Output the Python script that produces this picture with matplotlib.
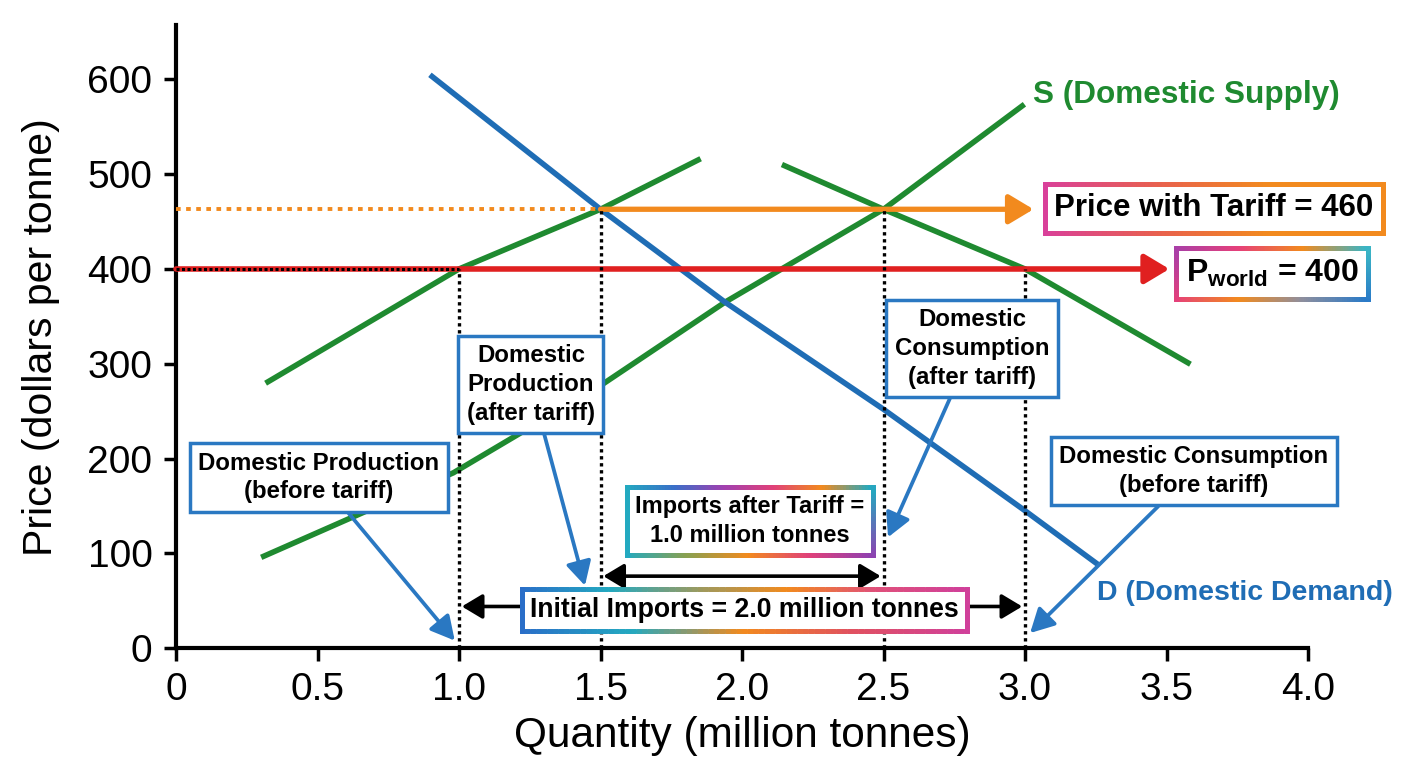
import numpy as np
import matplotlib
matplotlib.use("Agg")
import matplotlib.pyplot as plt
from matplotlib.collections import LineCollection
from matplotlib.colors import LinearSegmentedColormap, to_rgba

# ---- values ----
supply_q = [0.31, 0.98, 1.5, 1.94, 2.5, 2.99]
supply_p = [97, 185, 277, 365, 463, 572]

demand_q = [0.905, 1.5, 1.94, 2.5, 3.0, 3.25]
demand_p = [603, 463, 365, 252, 145, 90]

upper_left_q = [0.325, 1.0, 1.5, 1.845]
upper_left_p = [281, 400, 463, 515]

upper_right_q = [2.15, 2.5, 3.0, 3.576]
upper_right_p = [509, 463, 400, 301]

p_world = 400
p_tariff = 463
world_arrow_end = 3.51
tariff_arrow_end = 3.03

q_before = [1.0, 3.0]     # production / consumption at world price
q_after = [1.5, 2.5]      # production / consumption with tariff

x_ticks = [0, 0.5, 1.0, 1.5, 2.0, 2.5, 3.0, 3.5, 4.0]
x_tick_labels = ["0", "0.5", "1.0", "1.5", "2.0", "2.5", "3.0", "3.5", "4.0"]
y_ticks = [0, 100, 200, 300, 400, 500, 600]

GREEN = "#1f8a30"
BLUE = "#1f6db5"
BOX_BLUE = "#2a78c2"
ORANGE = "#f28a1e"
RED = "#e02020"

plt.rcParams["font.family"] = ["Liberation Sans", "DejaVu Sans"]
plt.rcParams["mathtext.fontset"] = "custom"
plt.rcParams["mathtext.bf"] = "Liberation Sans:bold"
plt.rcParams["mathtext.rm"] = "Liberation Sans"


def gradient_border(ax, txt, top_colors, bottom_colors=None, lw=3.5):
    if bottom_colors is None:
        bottom_colors = top_colors
    renderer = ax.figure.canvas.get_renderer()
    bb = txt.get_bbox_patch().get_window_extent(renderer)
    inv = ax.transAxes.inverted()
    (x0, y0), (x1, y1) = inv.transform([[bb.x0, bb.y0], [bb.x1, bb.y1]])
    top = LinearSegmentedColormap.from_list("t", top_colors)
    bot = LinearSegmentedColormap.from_list("b", bottom_colors)
    n = 80
    xs = np.linspace(x0, x1, n + 1)
    segs, cols = [], []
    for i in range(n):
        t = (i + 0.5) / n
        segs.append([(xs[i], y1), (xs[i + 1], y1)])
        cols.append(top(t))
        segs.append([(xs[i], y0), (xs[i + 1], y0)])
        cols.append(bot(t))
    ys = np.linspace(y0, y1, 21)
    for side, t in ((x0, 0.0), (x1, 1.0)):
        c_top = np.array(to_rgba(top(t)))
        c_bot = np.array(to_rgba(bot(t)))
        for j in range(20):
            f = (j + 0.5) / 20
            segs.append([(side, ys[j]), (side, ys[j + 1])])
            cols.append(tuple(c_bot * (1 - f) + c_top * f))
    lc = LineCollection(segs, colors=cols, linewidths=lw, transform=ax.transAxes,
                        clip_on=False, zorder=txt.get_zorder() + 0.1,
                        capstyle="projecting")
    ax.add_collection(lc)


def main():
    fig = plt.figure(figsize=(14.08, 7.68), dpi=100)
    ax = fig.add_axes([0.125, 0.156, 0.804, 0.811])

    # curves
    ax.plot(upper_left_q, upper_left_p, color=GREEN, lw=4, zorder=2)
    ax.plot(upper_right_q, upper_right_p, color=GREEN, lw=4, zorder=2)
    ax.plot(supply_q, supply_p, color=GREEN, lw=4, zorder=2)
    ax.plot(demand_q, demand_p, color=BLUE, lw=4, zorder=2)

    # price lines
    ax.plot([0, q_after[0]], [p_tariff, p_tariff], color=ORANGE, lw=2.8,
            linestyle=(0, (1.2, 1.4)), zorder=3)
    ax.annotate("", xy=(tariff_arrow_end, p_tariff), xytext=(q_after[0], p_tariff),
                arrowprops=dict(arrowstyle="-|>,head_length=0.5,head_width=0.3",
                                color=ORANGE, lw=3.8, mutation_scale=30,
                                shrinkA=0, shrinkB=0), zorder=3)
    ax.annotate("", xy=(world_arrow_end, p_world), xytext=(0, p_world),
                arrowprops=dict(arrowstyle="-|>,head_length=0.5,head_width=0.3",
                                color=RED, lw=4, mutation_scale=30,
                                shrinkA=0, shrinkB=0), zorder=3)
    ax.plot([0, q_before[0]], [p_world, p_world], color="black", lw=2.2,
            linestyle=(0, (1, 0.8)), zorder=3.5)

    # vertical guides
    for q in q_before:
        ax.plot([q, q], [0, p_world], color="black", lw=2.4,
                linestyle=(0, (1, 1.1)), zorder=3)
    for q in q_after:
        ax.plot([q, q], [0, p_tariff], color="black", lw=2.4,
                linestyle=(0, (1, 1.1)), zorder=3)

    # import span arrows
    dbl = dict(arrowstyle="<|-|>,head_length=0.5,head_width=0.3", color="black",
               lw=2.6, mutation_scale=25, shrinkA=0, shrinkB=0)
    ax.annotate("", xy=(q_after[1] - 0.01, 76), xytext=(q_after[0] + 0.01, 76),
                arrowprops=dbl, zorder=4)
    ax.annotate("", xy=(q_before[1] - 0.01, 44), xytext=(q_before[0] + 0.01, 44),
                arrowprops=dbl, zorder=4)

    # curve labels
    ax.text(3.028, 583, "S (Domestic Supply)", color=GREEN, fontsize=22.7,
            fontweight="bold", va="center", ha="left")
    ax.text(3.254, 58, "D (Domestic Demand)", color=BLUE, fontsize=20.5,
            fontweight="bold", va="center", ha="left")

    # callout boxes with blue arrows
    blue_box = dict(boxstyle="square,pad=0.35", fc="white", ec=BOX_BLUE, lw=2.5)
    arrow_kw = dict(arrowstyle="-|>,head_length=0.6,head_width=0.32", color=BOX_BLUE,
                    lw=2.7, mutation_scale=24, shrinkA=0, shrinkB=0)
    callouts = [
        ("Domestic Production\n(before tariff)", (0.505, 180), (0.985, 8)),
        ("Domestic\nProduction\n(after tariff)", (1.254, 278), (1.445, 66)),
        ("Domestic\nConsumption\n(after tariff)", (2.813, 316), (2.516, 117)),
        ("Domestic Consumption\n(before tariff)", (3.597, 187), (3.018, 16)),
    ]
    for label, box_xy, tip in callouts:
        ax.annotate(label, xy=tip, xytext=box_xy, fontsize=17.3, fontweight="bold",
                    ha="center", va="center", linespacing=1.32,
                    bbox=blue_box, arrowprops=arrow_kw, zorder=5)

    # gradient-bordered boxes
    plain = dict(boxstyle="square,pad=0.3", fc="white", ec="none")
    t_tariff = ax.text(3.667, 464, "Price with Tariff = 460", fontsize=22.5,
                       fontweight="bold", ha="center", va="center",
                       bbox=plain, zorder=5)
    t_world = ax.text(3.873, 395, r"P$_{\mathbf{world}}$ = 400", fontsize=23,
                      fontweight="bold", ha="center", va="center",
                      bbox=plain, zorder=5)
    t_after = ax.text(2.028, 134, "Imports after Tariff =\n1.0 million tonnes",
                      fontsize=17, fontweight="bold", ha="center",
                      va="center", linespacing=1.3,
                      bbox=dict(boxstyle="square,pad=0.35", fc="white", ec="none"),
                      zorder=5)
    t_initial = ax.text(2.008, 40, "Initial Imports = 2.0 million tonnes",
                        fontsize=19.2, fontweight="bold", ha="center", va="center",
                        bbox=dict(boxstyle="square,pad=0.3", fc="white", ec="none"),
                        zorder=5)

    # axes styling
    ax.set_xlim(0, 4.0)
    ax.set_ylim(0, 657)
    ax.spines["top"].set_visible(False)
    ax.spines["right"].set_visible(False)
    ax.spines["left"].set_linewidth(3)
    ax.spines["bottom"].set_linewidth(3)
    ax.set_xticks(x_ticks)
    ax.set_xticklabels(x_tick_labels)
    ax.set_yticks(y_ticks)
    ax.tick_params(axis="both", labelsize=28, length=9, width=2.5, direction="out",
                   pad=8)
    ax.set_xlabel("Quantity (million tonnes)", fontsize=30.5, labelpad=6)
    ax.set_ylabel("Price (dollars per tonne)", fontsize=29.5, labelpad=20)

    fig.canvas.draw()
    gradient_border(ax, t_tariff, ["#d9409a", "#e8604f", "#f28a1e", "#f28a1e"])
    gradient_border(ax, t_world, ["#a83fa8", "#e6407a", "#f28a1e", "#3ab5c5"],
                    ["#e6407a", "#f28a1e", "#8e8e9e", "#2a7ac8"])
    gradient_border(ax, t_after,
                    ["#23a9c0", "#3a6fc8", "#a040b0", "#e0407a", "#f28a1e", "#23a9c0"],
                    ["#23a9c0", "#8aa050", "#f28a1e", "#e0407a", "#9040b0"])
    gradient_border(ax, t_initial,
                    ["#2a6ec8", "#23a9c0", "#9a9a60", "#f28a1e", "#e0507a", "#d0409a"],
                    ["#2a6ec8", "#23a9c0", "#f28a1e", "#e05060", "#d0409a"])

    fig.savefig("out.png", dpi=100)
    plt.close(fig)


if __name__ == "__main__":
    main()
